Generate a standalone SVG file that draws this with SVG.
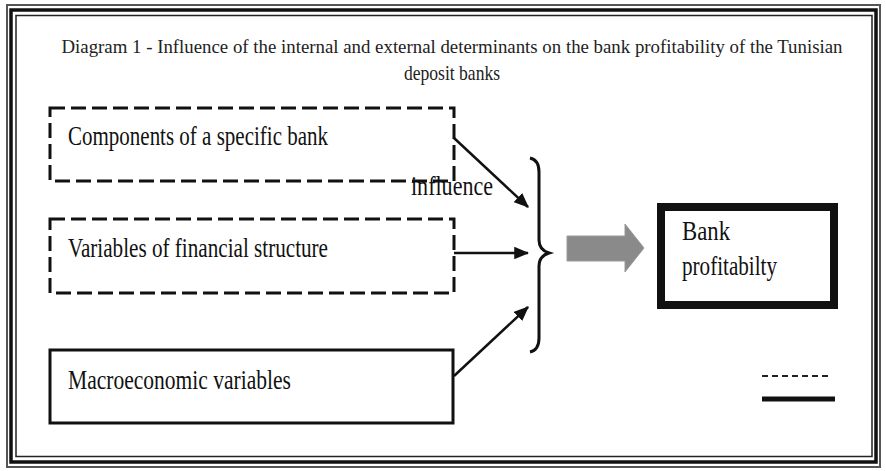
<svg xmlns="http://www.w3.org/2000/svg" width="886" height="471" viewBox="0 0 886 471">
<style>
.lbl{font-size:27px;fill:#111}
.dash{fill:none;stroke:#111;stroke-width:3;stroke-dasharray:15 6}
.solid{fill:none;stroke:#111;stroke-width:3}
.con{fill:none;stroke:#111;stroke-width:2.5;marker-end:url(#ah)}
</style>
<defs>
<marker id="ah" viewBox="0 0 12 10" refX="11" refY="5" markerWidth="6" markerHeight="5" orient="auto" markerUnits="strokeWidth">
<path d="M0,0 L12,5 L0,10 z" fill="#111"/>
</marker>
</defs>
<rect width="886" height="471" fill="#fff"/>
<g id="frame" fill="none">
<rect x="7" y="5" width="873" height="462" stroke="#555" stroke-width="2"/>
<rect x="11" y="10" width="865" height="452" stroke="#111" stroke-width="3.5"/>
<rect x="16" y="15.5" width="856" height="441" stroke="#222" stroke-width="1.5"/>
</g>
<g id="title" font-family="Liberation Serif, DejaVu Serif, serif" fill="#222">
<text x="452" y="53" font-size="19.5" text-anchor="middle" textLength="781" lengthAdjust="spacingAndGlyphs">Diagram 1 - Influence of the internal and external determinants on the bank profitability of the Tunisian</text>
<text x="452" y="80" font-size="21" text-anchor="middle" textLength="96" lengthAdjust="spacingAndGlyphs">deposit banks</text>
</g>
<g id="node-components" font-family="Liberation Serif, DejaVu Serif, serif">
<rect class="dash" x="50" y="108" width="404" height="73"/>
<text class="lbl" x="68" y="145" textLength="260" lengthAdjust="spacingAndGlyphs">Components of a specific bank</text>
</g>
<g id="node-financial" font-family="Liberation Serif, DejaVu Serif, serif">
<rect class="dash" x="50" y="219" width="404" height="74"/>
<text class="lbl" x="68" y="257" textLength="260" lengthAdjust="spacingAndGlyphs">Variables of financial structure</text>
</g>
<g id="node-macro" font-family="Liberation Serif, DejaVu Serif, serif">
<rect class="solid" x="50" y="350" width="403" height="73"/>
<text class="lbl" x="68" y="389" font-size="25" textLength="223" lengthAdjust="spacingAndGlyphs">Macroeconomic variables</text>
</g>
<g id="label-influence" font-family="Liberation Serif, DejaVu Serif, serif">
<text class="lbl" x="411" y="195" font-size="25" textLength="82" lengthAdjust="spacingAndGlyphs">influence</text>
</g>
<g id="connectors">
<line class="con" x1="454" y1="138" x2="528" y2="207"/>
<line class="con" x1="454" y1="253" x2="528" y2="253"/>
<line class="con" x1="454" y1="376" x2="528" y2="307"/>
<path d="M530,158 Q539,160 539,172 L539,240 Q539,250 549,253 Q539,256 539,266 L539,338 Q539,350 530,352" fill="none" stroke="#111" stroke-width="3"/>
<path d="M567,236 L625,236 L625,224 L644,248 L625,272 L625,261 L567,261 z" fill="#8a8a8a" stroke="#999" stroke-width="1"/>
</g>
<g id="node-bank" font-family="Liberation Serif, DejaVu Serif, serif">
<rect x="661" y="207" width="173" height="98" fill="none" stroke="#111" stroke-width="8"/>
<text class="lbl" x="682" y="240" font-size="23" textLength="48" lengthAdjust="spacingAndGlyphs">Bank</text>
<text class="lbl" x="682" y="275" font-size="23" textLength="95" lengthAdjust="spacingAndGlyphs">profitabilty</text>
</g>
<g id="legend">
<line x1="762" y1="376" x2="832" y2="376" stroke="#222" stroke-width="2" stroke-dasharray="6 4"/>
<line x1="762" y1="399" x2="835" y2="399" stroke="#111" stroke-width="5"/>
</g>
</svg>
